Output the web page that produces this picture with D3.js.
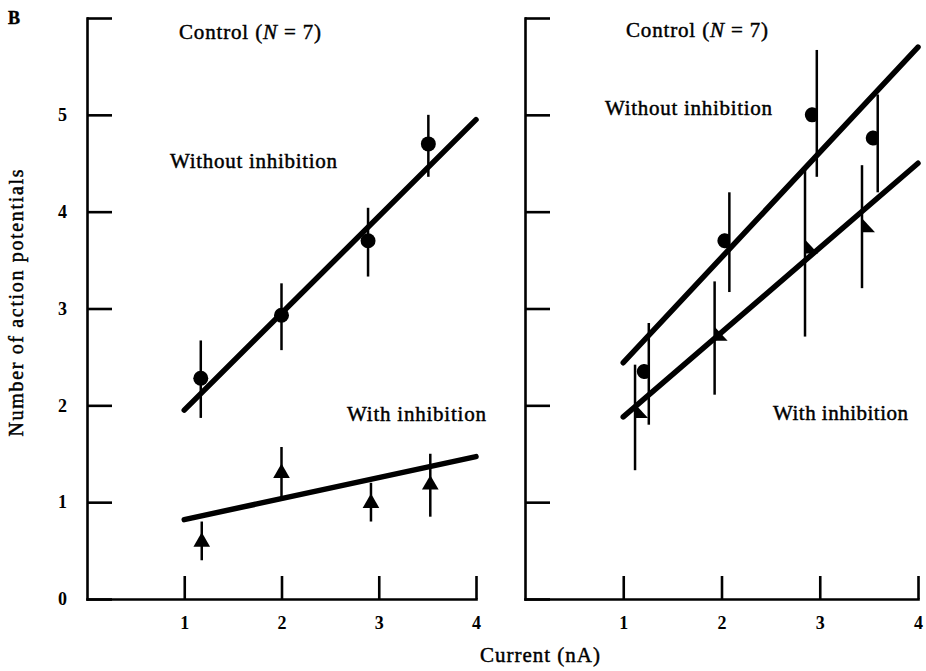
<!DOCTYPE html>
<meta charset="utf-8">
<style>
body {
  margin: 0;
  background: #fff;
}
svg text {
  font-family: "Liberation Serif", "DejaVu Serif", serif;
  fill: #000;
  stroke: #000;
  stroke-width: 0.45px;
}
.axis path,
.axis line {
  fill: none;
  stroke: #000;
  stroke-width: 2.6;
}
.axis text {
  font-size: 18px;
  font-weight: bold;
  stroke-width: 0;
}
.fit {
  fill: none;
  stroke: #000;
  stroke-width: 5.5;
  stroke-linecap: round;
}
.err {
  stroke: #000;
  stroke-width: 2.5;
}
</style>
<body>
<script src="https://d3js.org/d3.v7.min.js"></script>
<script>

// tick values
const xTicks = [1, 2, 3, 4];
const yTicks = [0, 1, 2, 3, 4, 5, 6];

// left panel: control, without inhibition (circles)
const leftWithoutX  = [1.17, 2.00, 2.89, 3.51];
const leftWithoutY  = [2.28, 2.93, 3.70, 4.70];
const leftWithoutHi = [2.67, 3.26, 4.04, 5.00];
const leftWithoutLo = [1.87, 2.57, 3.33, 4.36];
const leftWithoutFit = [[1, 1.95], [4, 4.95]];

// left panel: control, with inhibition (triangles)
const leftWithX  = [1.18, 2.00, 2.92, 3.53];
const leftWithY  = [0.59, 1.30, 0.99, 1.18];
const leftWithHi = [0.80, 1.57, 1.20, 1.50];
const leftWithLo = [0.40, 1.05, 0.80, 0.85];
const leftWithFit = [[1, 0.82], [4, 1.47]];

// right panel: control, without inhibition (half circles)
const rightWithoutX  = [1.26, 2.08, 2.97, 3.59];
const rightWithoutY  = [2.35, 3.70, 5.00, 4.76];
const rightWithoutHi = [2.85, 4.20, 5.67, 5.21];
const rightWithoutLo = [1.80, 3.17, 4.36, 4.20];
const rightWithoutFit = [[1, 2.44], [4, 5.70]];

// right panel: control, with inhibition (half triangles)
const rightWithX  = [1.12, 1.93, 2.85, 3.43];
const rightWithY  = [1.93, 2.73, 3.63, 3.85];
const rightWithHi = [2.42, 3.28, 4.46, 4.48];
const rightWithLo = [1.33, 2.11, 2.71, 3.21];
const rightWithFit = [[1, 1.88], [4, 4.50]];

const zip = (xs, ys, his, los) => xs.map((x, i) => ({x: x, y: ys[i], hi: his[i], lo: los[i]}));

var width = 926, height = 671;

var svg = d3.select("body").append("svg")
    .attr("width", width)
    .attr("height", height);

var y = d3.scaleLinear().domain([0, 6]).range([599, 18]);
var xLeft  = d3.scaleLinear().domain([0, 4]).range([87, 476]);
var xRight = d3.scaleLinear().domain([0, 4]).range([525, 918]);

function drawAxes(x, labels) {
  var yAxis = d3.axisLeft(y)
      .tickValues(yTicks)
      .tickSizeInner(-25)
      .tickSizeOuter(0)
      .tickPadding(20)
      .tickFormat(d => (labels && d < 6) ? d : "");
  svg.append("g")
      .attr("class", "axis")
      .attr("transform", "translate(" + x(0) + ",0)")
      .call(yAxis);

  var xAxis = d3.axisBottom(x)
      .tickValues(xTicks)
      .tickSizeInner(-23)
      .tickSizeOuter(0)
      .tickPadding(17)
      .tickFormat(d3.format("d"));
  svg.append("g")
      .attr("class", "axis")
      .attr("transform", "translate(0," + y(0) + ")")
      .call(xAxis);
  svg.selectAll(".axis path.domain").attr("stroke-linecap", "square");
}

drawAxes(xLeft, true);
drawAxes(xRight, false);

var line = x => d3.line().x(d => x(d[0])).y(d => y(d[1]));

function drawFit(x, pts) {
  svg.append("path").attr("class", "fit").attr("d", line(x)(pts));
}

function drawErr(x, data) {
  svg.append("g").selectAll("line")
    .data(data)
    .enter().append("line")
      .attr("class", "err")
      .attr("x1", d => x(d.x)).attr("x2", d => x(d.x))
      .attr("y1", d => y(d.hi)).attr("y2", d => y(d.lo));
}

// left panel
var lw = zip(leftWithoutX, leftWithoutY, leftWithoutHi, leftWithoutLo);
var li = zip(leftWithX, leftWithY, leftWithHi, leftWithLo);
drawFit(xLeft, leftWithoutFit);
drawFit(xLeft, leftWithFit);
drawErr(xLeft, lw);
drawErr(xLeft, li);

svg.append("g").selectAll("circle")
  .data(lw)
  .enter().append("circle")
    .attr("cx", d => xLeft(d.x))
    .attr("cy", d => y(d.y))
    .attr("r", 7.5)
    .attr("fill", "#000");

var tri = d3.symbol().type(d3.symbolTriangle).size(120);
svg.append("g").selectAll("path")
  .data(li)
  .enter().append("path")
    .attr("d", tri)
    .attr("transform", d => "translate(" + xLeft(d.x) + "," + y(d.y) + ")")
    .attr("fill", "#000");

// right panel
var rw = zip(rightWithoutX, rightWithoutY, rightWithoutHi, rightWithoutLo);
var ri = zip(rightWithX, rightWithY, rightWithHi, rightWithLo);
drawFit(xRight, rightWithoutFit);
drawFit(xRight, rightWithFit);
drawErr(xRight, rw);
drawErr(xRight, ri);

// half circles sit on the left of their bar
svg.append("g").selectAll("path")
  .data(rw)
  .enter().append("path")
    .attr("d", "M0,-6 A7.5,7.5 0 1 0 0,6 Z")
    .attr("transform", d => "translate(" + xRight(d.x) + "," + y(d.y) + ")")
    .attr("fill", "#000");

// half triangles sit on the right of their bar
svg.append("g").selectAll("path")
  .data(ri)
  .enter().append("path")
    .attr("d", "M0,-8 L13,6 L0,6 Z")
    .attr("transform", d => "translate(" + xRight(d.x) + "," + y(d.y) + ")")
    .attr("fill", "#000");

// labels
svg.append("text")
    .attr("x", 8).attr("y", 24)
    .style("font-size", "18px")
    .style("font-weight", "bold")
    .text("B");

function title(cx, cy) {
  var t = svg.append("text")
      .attr("x", cx).attr("y", cy)
      .attr("text-anchor", "middle")
      .style("font-size", "21px")
      .attr("textLength", 142)
      .attr("lengthAdjust", "spacing");
  t.append("tspan").text("Control (");
  t.append("tspan").style("font-style", "italic").text("N");
  t.append("tspan").text(" = 7)");
}
title(250, 39);
title(697, 37);

function label(txt, x0, x1, yb) {
  svg.append("text")
      .attr("x", x0).attr("y", yb)
      .style("font-size", "21px")
      .attr("textLength", x1 - x0)
      .attr("lengthAdjust", "spacing")
      .text(txt);
}
label("Without inhibition", 170, 337, 168);
label("Without inhibition", 605, 772, 115);
label("With inhibition", 347, 486, 421);
label("With inhibition", 773, 908, 420);

svg.append("text")
    .attr("x", 540).attr("y", 662)
    .attr("text-anchor", "middle")
    .style("font-size", "21px")
    .attr("textLength", 120)
    .attr("lengthAdjust", "spacing")
    .text("Current (nA)");

svg.append("text")
    .attr("transform", "translate(23,303) rotate(-90)")
    .attr("text-anchor", "middle")
    .style("font-size", "20px")
    .attr("textLength", 267)
    .attr("lengthAdjust", "spacing")
    .text("Number of action potentials");

</script>
</body>
